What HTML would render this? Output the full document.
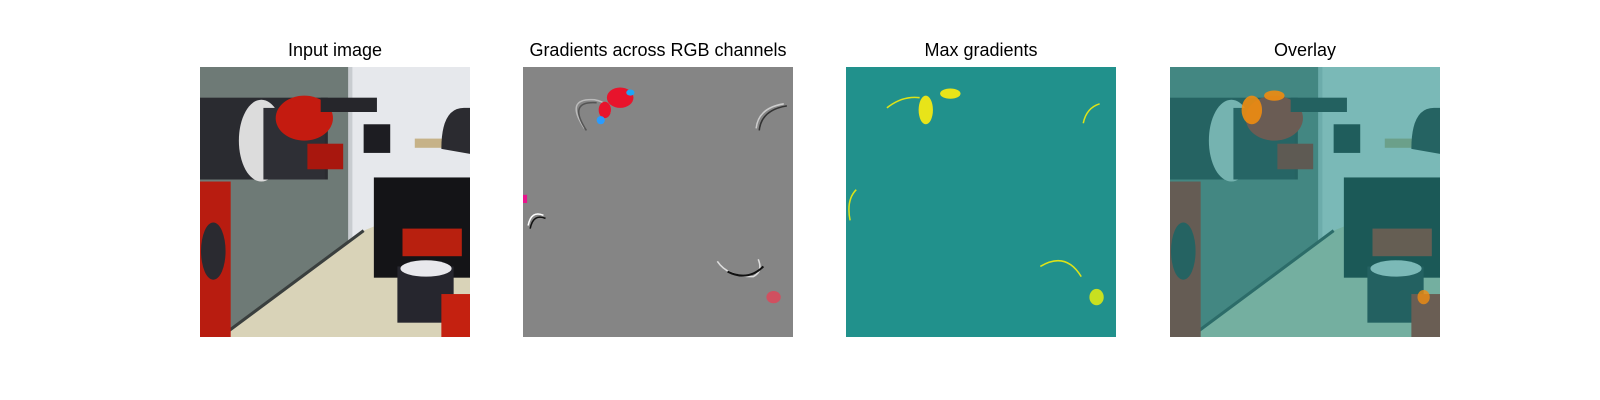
<!DOCTYPE html>
<html><head><meta charset="utf-8"><style>
body{margin:0;width:1600px;height:400px;background:#fff;overflow:hidden;font-family:"Liberation Sans","DejaVu Sans",sans-serif}
.t{position:absolute;top:39px;width:270px;text-align:center;font-size:18px;line-height:22px;color:#000;white-space:nowrap}
svg.p{position:absolute;top:67px}
</style></head><body>
<svg width="0" height="0" style="position:absolute">
<defs>
<g id="scene">
<rect x="0" y="0" width="264" height="264" fill="#e6e8ec"/>
<rect x="0" y="0" width="145" height="264" fill="#6e7a76"/>
<rect x="145" y="0" width="4" height="170" fill="#c8ccd0"/>
<polygon points="20,264 160,160 185,150 264,150 264,264" fill="#d9d3b8"/>
<line x1="20" y1="264" x2="160" y2="160" stroke="#3a3f3e" stroke-width="3"/>
<rect x="210" y="70" width="54" height="9" fill="#c6b288"/>
<path d="M236,80 Q236,40 258,40 L264,40 L264,85 Z" fill="#2b2b30"/>
<rect x="170" y="108" width="94" height="98" fill="#141417"/>
<rect x="0" y="30" width="125" height="80" fill="#2a2b30"/>
<ellipse cx="60" cy="72" rx="22" ry="40" fill="#dcdcdc"/>
<rect x="62" y="40" width="60" height="70" fill="#2e2f35"/>
<ellipse cx="102" cy="50" rx="28" ry="22" fill="#c41b10"/>
<rect x="105" y="75" width="35" height="25" fill="#a8170e"/>
<rect x="118" y="30" width="55" height="14" fill="#26262b"/>
<rect x="160" y="56" width="26" height="28" fill="#1d1d22"/>
<rect x="0" y="112" width="30" height="152" fill="#b81c10"/>
<ellipse cx="13" cy="180" rx="12" ry="28" fill="#2a2a30"/>
<rect x="198" y="158" width="58" height="27" fill="#b8200f"/>
<rect x="193" y="195" width="55" height="55" fill="#26262e"/>
<ellipse cx="221" cy="197" rx="25" ry="8" fill="#e8e8ec"/>
<rect x="236" y="222" width="28" height="42" fill="#c42110"/>
</g>
</defs>
</svg>
<div class="t" style="left:200px">Input image</div>
<div class="t" style="left:523px">Gradients across RGB channels</div>
<div class="t" style="left:846px">Max gradients</div>
<div class="t" style="left:1170px">Overlay</div>

<svg class="p" style="left:200px" width="270" height="270" viewBox="0 0 264 264"><use href="#scene"/></svg>

<svg class="p" style="left:523px" width="270" height="270" viewBox="0 0 264 264">
<rect width="264" height="264" fill="#858585"/>
<g fill="none" stroke-width="1.5">
<path d="M60,60 Q40,30 70,32 Q85,35 85,45" stroke="#bbb"/>
<path d="M62,62 Q43,33 72,35" stroke="#555"/>
<path d="M228,60 Q230,40 255,36" stroke="#ccc"/><path d="M231,62 Q233,42 258,38" stroke="#333"/>
<path d="M5,155 Q8,140 20,145" stroke="#fff"/><path d="M7,158 Q10,143 22,148" stroke="#111"/>
<path d="M190,190 Q200,205 225,205 Q235,200 230,188" stroke="#ddd"/><path d="M200,200 Q220,210 235,195" stroke="#111" stroke-width="2"/>
</g>
<ellipse cx="95" cy="30" rx="13" ry="10" fill="#e8142c"/>
<ellipse cx="80" cy="42" rx="6" ry="8" fill="#e8142c"/>
<ellipse cx="76" cy="52" rx="4" ry="4" fill="#2a9cff"/>
<ellipse cx="105" cy="25" rx="4" ry="3" fill="#1ea6f6"/>
<ellipse cx="245" cy="225" rx="7" ry="6" fill="#d05060"/>
<rect x="0" y="125" width="4" height="8" fill="#e8148c"/>
</svg>

<svg class="p" style="left:846px" width="270" height="270" viewBox="0 0 264 264">
<rect width="264" height="264" fill="#21918c"/>
<ellipse cx="78" cy="42" rx="7" ry="14" fill="#e8e419"/>
<ellipse cx="102" cy="26" rx="10" ry="5" fill="#e8e419"/>
<g fill="none" stroke="#dde318" stroke-width="1.5">
<path d="M40,40 Q55,28 72,30"/><path d="M190,195 Q215,180 230,205"/><path d="M4,150 Q0,130 10,120"/><path d="M232,55 Q235,40 248,36"/>
</g>
<ellipse cx="245" cy="225" rx="7" ry="8" fill="#c8e020"/>
</svg>

<svg class="p" style="left:1170px" width="270" height="270" viewBox="0 0 264 264">
<use href="#scene"/>
<rect width="264" height="264" fill="#21918c" opacity="0.55"/>
<ellipse cx="80" cy="42" rx="10" ry="14" fill="#f08c10" opacity="0.9"/>
<ellipse cx="102" cy="28" rx="10" ry="5" fill="#f08c10" opacity="0.9"/>
<ellipse cx="248" cy="225" rx="6" ry="7" fill="#f08c10" opacity="0.8"/>
</svg>
</body></html>
